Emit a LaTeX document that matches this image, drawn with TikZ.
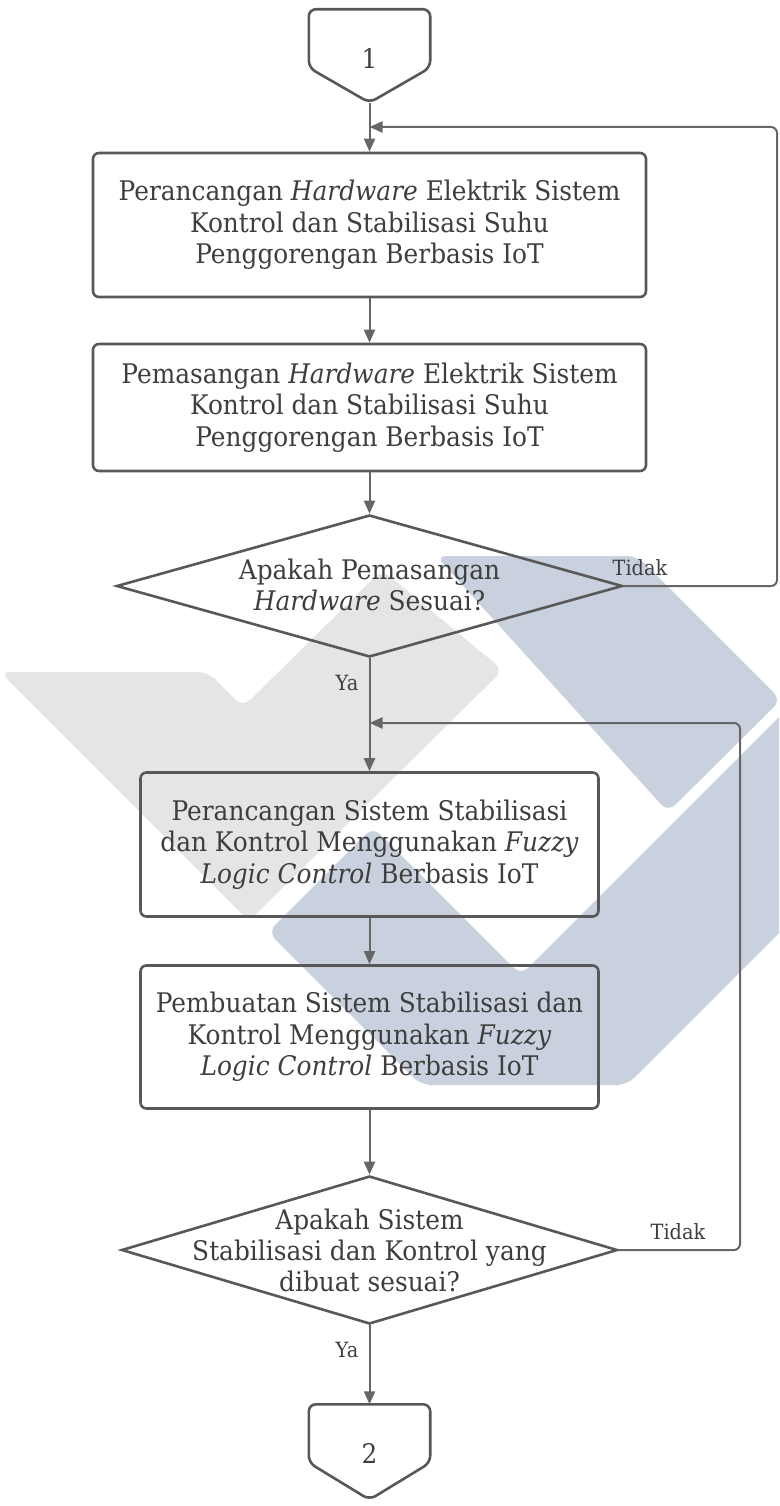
\documentclass[tikz,border=0pt]{standalone}
\usepackage{fontspec}
\setmainfont{DejaVu Serif}[FakeStretch=0.92]
\usetikzlibrary{shapes.geometric,arrows.meta,calc}
\definecolor{txtc}{HTML}{3E3E3E}
\definecolor{boxc}{HTML}{585858}
\definecolor{linec}{HTML}{666666}
\definecolor{wmgray}{HTML}{E5E5E5}
\definecolor{wmblue}{HTML}{C9D1DE}
\tikzset{
  boxnode/.style={draw=boxc, line width=2.6pt, rounded corners=6pt, minimum width=553pt, minimum height=144pt, text=txtc, align=center, font=\fontsize{27}{31.5}\selectfont},
  smallbox/.style={boxnode, minimum width=458pt},
  dianode/.style={draw=boxc, line width=2.6pt, diamond, inner sep=0pt},
  diatext/.style={text=txtc, align=center, font=\fontsize{27}{31}\selectfont},
  ofp/.style={minimum width=121pt, minimum height=93pt, inner sep=0pt},
  ofpline/.style={draw=boxc, line width=2.6pt, rounded corners=7pt},
  lab/.style={text=txtc, font=\fontsize{21}{24}\selectfont, inner sep=0pt},
  arr/.style={draw=linec, line width=2pt, -{Triangle[length=13pt,width=11pt]}},
  wm/.style={rounded corners=10pt}
}
\begin{document}
\begin{tikzpicture}[x=1pt,y=-1pt]
\useasboundingbox (0,0) rectangle (779,1506);
% watermark
\begin{scope}
\clip (0,0) rectangle (779,1506);
\fill[wmgray, wm] (0,672) -- (208,672) -- (243,707) -- (382,570) -- (503,670) -- (249,921) -- cycle;
\fill[wmblue, wm] (436,556) -- (637,556) -- (781,700) -- (668,812) -- cycle;
\fill[wmblue, wm] (268,932) -- (373,827) -- (521,975) -- (800,696) -- (800,912) -- (627,1085) -- (421,1085) -- cycle;
\end{scope}
% off-page connector 1
\node[ofp] (c1) at (369.5,56) {};
\draw[ofpline] (c1.north west) -- (c1.north east) -- ([yshift=35pt]c1.south east) -- (c1.south) -- ([yshift=35pt]c1.south west) -- cycle;
\node[text=txtc, font=\fontsize{27}{30}\selectfont] (c1t) at (369.5,58) {1};
% boxes
\node[boxnode, minimum height=144pt] (b1) at (369.5,225) {Perancangan \textit{Hardware} Elektrik Sistem\\Kontrol dan Stabilisasi Suhu\\Penggorengan Berbasis IoT};
\node[boxnode, minimum height=127pt] (b2) at (369.5,407.5) {Pemasangan \textit{Hardware} Elektrik Sistem\\Kontrol dan Stabilisasi Suhu\\Penggorengan Berbasis IoT};
\node[dianode, minimum width=506pt, minimum height=142pt] (d1) at (369.5,586) {};
\node[diatext] (d1t) at (369.5,585) {Apakah Pemasangan\\\textit{Hardware} Sesuai?};
\node[smallbox, minimum height=144pt] (b3) at (369.5,844.5) {Perancangan Sistem Stabilisasi\\dan Kontrol Menggunakan \textit{Fuzzy}\\\textit{Logic Control} Berbasis IoT};
\node[smallbox, minimum height=143pt] (b4) at (369.5,1037) {Pembuatan Sistem Stabilisasi dan\\Kontrol Menggunakan \textit{Fuzzy}\\\textit{Logic Control} Berbasis IoT};
\node[dianode, minimum width=496pt, minimum height=148pt] (d2) at (369.5,1250) {};
\node[diatext] (d2t) at (369.5,1250) {Apakah Sistem\\Stabilisasi dan Kontrol yang\\dibuat sesuai?};
% off-page connector 2
\node[ofp, minimum height=95pt] (c2) at (369.5,1452) {};
\draw[ofpline] (c2.north west) -- (c2.north east) -- ([yshift=37pt]c2.south east) -- (c2.south) -- ([yshift=37pt]c2.south west) -- cycle;
\node[text=txtc, font=\fontsize{27}{30}\selectfont] (c2t) at (369.5,1453) {2};
% main flow
\draw[arr] (c1.south) -- (b1.north);
\draw[arr] (b1.south) -- (b2.north);
\draw[arr] (b2.south) -- (d1.north);
\draw[arr] (d1.south) -- (b3.north);
\draw[arr] (b3.south) -- (b4.north);
\draw[arr] (b4.south) -- (d2.north);
\draw[arr] (d2.south) -- (c2.north);
% feedback loops
\coordinate (j1) at (369.5,127);
\coordinate (k1) at (777,127);
\draw[arr, rounded corners=6pt] (d1.east) -| (k1) -- (j1);
\coordinate (j2) at (369.5,723);
\coordinate (k2) at (740,723);
\draw[arr, rounded corners=6pt] (d2.east) -| (k2) -- (j2);
% labels
\node[lab] (t1) at (640,568) {Tidak};
\node[lab] (y1) at (347,683) {Ya};
\node[lab] (t2) at (678,1232) {Tidak};
\node[lab] (y2) at (347,1350) {Ya};
\end{tikzpicture}
\end{document}
